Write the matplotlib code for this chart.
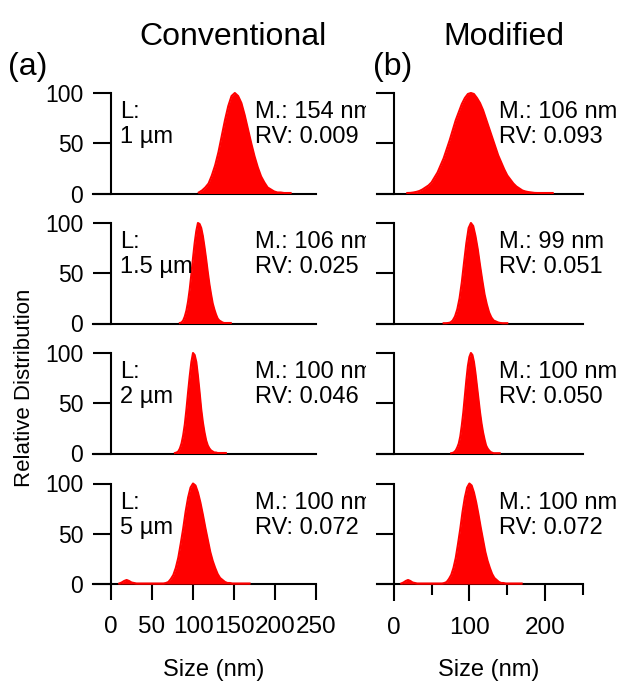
import matplotlib
matplotlib.use('Agg')
import matplotlib.pyplot as plt
import numpy as np
from matplotlib.transforms import Bbox, TransformedBbox

plt.rcParams['font.family'] = ['Liberation Sans', 'DejaVu Sans']

W, H = 619, 684

# size distributions (relative, %)
# each: first bin centre, bin step, values
conv_1um_bins = (107, 4)
conv_1um = [1, 3, 6, 10, 18, 28, 41, 57, 73, 87, 97, 100, 97, 90, 78, 64, 50, 37,
            26, 17, 11, 6, 4, 2, 1, 1, 0.5, 0.5, 0.5]

conv_15um_bins = (84, 2)
conv_15um = [0.5, 1, 3, 7, 13, 22, 34, 49, 65, 80, 92, 100, 99, 95, 87, 76, 64, 51,
             39, 29, 20, 14, 9, 5, 3, 2, 1, 0.5, 0.5, 0.5, 0.5, 0.5]

conv_2um_bins = (78, 2)
conv_2um = [0.5, 1, 2, 5, 10, 18, 29, 44, 61, 77, 91, 100, 98, 91, 77, 61, 44, 31,
            21, 13, 8, 5, 3, 2, 1, 1, 0.5, 0.5, 0.5, 0.5, 0.5, 0.5]

conv_5um_bins = (10, 3)
conv_5um = [0.5, 1.5, 3, 4, 3, 1.5, 1, 0.5, 0.5, 0.5, 0.5, 0.5, 0.5, 0.5, 0.5, 0.5,
            0.5, 0.5, 0.5,
            1, 2, 5, 9, 16, 26, 40, 55, 72, 86, 96, 100, 98, 91, 81, 69, 56, 44, 32,
            23, 16, 10, 6, 4, 2, 1, 1,
            0.5, 0.5, 0.5, 0.5, 0.5, 0.5, 0.5, 0.5]

mod_1um_bins = (18, 4)
mod_1um = [0.5, 0.6, 1, 1.6, 2.5, 4, 6, 8, 11, 16, 21, 28, 35, 44, 53, 63, 73, 81,
           89, 95, 99, 100, 99, 95, 90, 83, 74, 65, 56, 47, 38, 31, 24, 18, 14, 10,
           7, 5, 3, 2, 1.4, 1, 0.6, 0.5, 0.5, 0.5, 0.5, 0.5, 0.5]

mod_15um_bins = (66, 3)
mod_15um = [0.3, 0.3, 0.5, 1, 3, 7, 14, 25, 41, 61, 80, 95, 100, 97, 87, 74, 58, 43,
            29, 19, 11, 6, 3, 2, 1, 0.5, 0.3, 0.3, 0.3]

mod_2um_bins = (76, 2)
mod_2um = [0.3, 0.6, 1.4, 3, 6, 10, 17, 28, 41, 57, 73, 87, 96, 100, 98, 91, 80, 67,
           54, 41, 30, 21, 14, 8, 5, 3, 1.5, 0.8, 0.3, 0.3, 0.3, 0.3, 0.3]

mod_5um_bins = conv_5um_bins
mod_5um = conv_5um

conv_len = ['L:\n1 µm', 'L:\n1.5 µm', 'L:\n2 µm', 'L:\n5 µm']
conv_stats = ['M.: 154 nm\nRV: 0.009', 'M.: 106 nm\nRV: 0.025',
              'M.: 100 nm\nRV: 0.046', 'M.: 100 nm\nRV: 0.072']
mod_stats = ['M.: 106 nm\nRV: 0.093', 'M.: 99 nm\nRV: 0.051',
             'M.: 100 nm\nRV: 0.050', 'M.: 100 nm\nRV: 0.072']

conv_data = [(conv_1um_bins, conv_1um), (conv_15um_bins, conv_15um),
             (conv_2um_bins, conv_2um), (conv_5um_bins, conv_5um)]
mod_data = [(mod_1um_bins, mod_1um), (mod_15um_bins, mod_15um),
            (mod_2um_bins, mod_2um), (mod_5um_bins, mod_5um)]

fig = plt.figure(figsize=(W / 100, H / 100), dpi=100)

row_tops = [93, 223, 353, 483.5]
row_h = 100.5
col_left = [(93, 223), (377, 206)]

LW = 1.5


def draw(ax, bins, vals):
    start, step = bins
    x = start + step * np.arange(len(vals))
    ax.fill_between(x, vals, color='red', lw=0, zorder=3, clip_on=False)
    ax.plot(x, vals, color='red', lw=LW, zorder=3, clip_on=False)


def style(ax, bottom):
    ax.set_xlim(-22, 250)
    ax.set_ylim(0, 100)
    for s in ['top', 'right']:
        ax.spines[s].set_visible(False)
    ax.spines['left'].set_position(('data', 0))
    ax.spines['left'].set_bounds(0, 100)
    ax.spines['left'].set_linewidth(LW)
    ax.spines['bottom'].set_linewidth(LW)
    ax.set_yticks([0, 50, 100])
    ax.tick_params(axis='y', direction='out', length=13, width=LW, pad=7,
                   labelsize=16.5)
    if not bottom:
        ax.tick_params(axis='x', bottom=False, labelbottom=False)
    ax.patch.set_visible(False)


axes = []
for c, (lp, wp) in enumerate(col_left):
    data = conv_data if c == 0 else mod_data
    for r in range(4):
        b = H - (row_tops[r] + row_h)
        ax = fig.add_axes([lp / W, b / H, wp / W, row_h / H])
        draw(ax, *data[r])
        style(ax, r == 3)
        if c == 0:
            ax.text(0.121, 0.92, conv_len[r], transform=ax.transAxes, va='top',
                    ha='left', fontsize=17)
            t = ax.text(0.726, 0.92, conv_stats[r], transform=ax.transAxes,
                        va='top', ha='left', fontsize=17)
            t.set_clip_box(TransformedBbox(Bbox.from_extents(0, 0, 366 / W, 1),
                                           fig.transFigure))
            t.set_clip_on(True)
        else:
            ax.set_yticklabels([])
            ax.text(0.592, 0.92, mod_stats[r], transform=ax.transAxes, va='top',
                    ha='left', fontsize=17)
        if r == 3:
            if c == 0:
                ax.set_xticks([0, 50, 100, 150, 200, 250])
                ax.tick_params(axis='x', length=11.5, width=LW, pad=11.5,
                               labelsize=17.5)
            else:
                ax.set_xticks([0, 100, 200])
                ax.set_xticks([50, 150, 250], minor=True)
                ax.tick_params(axis='x', which='major', length=12.5, width=LW,
                               pad=11, labelsize=17.5)
                ax.tick_params(axis='x', which='minor', length=8, width=LW)
        axes.append(ax)

# y labels shown on the left column only
for r in range(4):
    axes[r].set_yticklabels(['0', '50', '100'])

fig.text(233 / W, 1 - 45 / H, 'Conventional', ha='center', va='baseline',
         fontsize=23)
fig.text(504 / W, 1 - 45 / H, 'Modified', ha='center', va='baseline',
         fontsize=23)
fig.text(8 / W, 1 - 75 / H, '(a)', ha='left', va='baseline', fontsize=23)
fig.text(373 / W, 1 - 75 / H, '(b)', ha='left', va='baseline', fontsize=23)
fig.text(25 / W, 1 - 388 / H, 'Relative Distribution', rotation=90,
         ha='center', va='center', fontsize=16)
fig.text(213.5 / W, 1 - 676 / H, 'Size (nm)', ha='center', va='baseline',
         fontsize=17)
fig.text(488.5 / W, 1 - 676 / H, 'Size (nm)', ha='center', va='baseline',
         fontsize=17)

fig.savefig('out.png', dpi=100)
